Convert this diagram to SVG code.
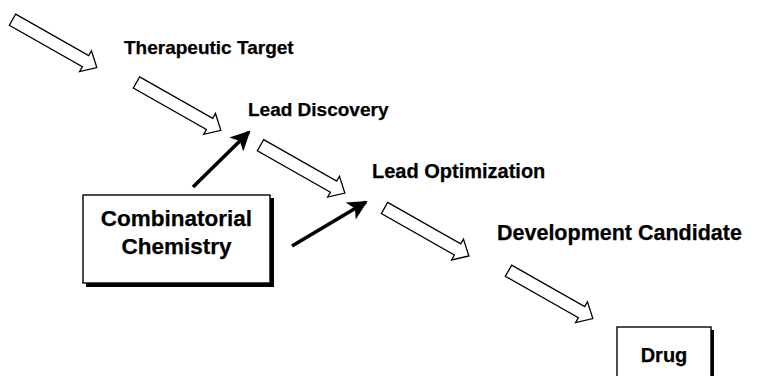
<svg xmlns="http://www.w3.org/2000/svg" width="774" height="376" viewBox="0 0 774 376">
  <defs>
    <!-- hollow block arrow, tail centred on the origin, pointing along +x -->
    <polygon id="hollow" points="0,-6.4 84,-6.4 84,-12 97,0 84,12 84,6.4 0,6.4"/>
    <marker id="solidHead" viewBox="0 0 10 10" refX="9" refY="5" markerWidth="6.5" markerHeight="5.5" markerUnits="strokeWidth" orient="auto">
      <path d="M0,0 L10,5 L0,10 L2.5,5 Z" fill="#000"/>
    </marker>
  </defs>
  <style>
    .flow use { fill: #fff; stroke: #000; stroke-width: 1.3; stroke-linejoin: miter; }
    .feed { stroke: #000; stroke-width: 3.6; fill: none; marker-end: url(#solidHead); }
    .lbl { font-family: "Liberation Sans", Arial, sans-serif; font-weight: bold; fill: #000; stroke: #000; stroke-width: 0.25; }
    .box { fill: #fff; stroke: #000; stroke-width: 1.4; }
    .shadow { fill: #000; }
  </style>
  <rect width="774" height="376" fill="#fff"/>

  <!-- connectors: pipeline arrows and the two feed-in arrows -->
  <g id="connectors">
    <g class="flow">
      <use href="#hollow" transform="translate(12.5,19.7) rotate(29.6)"/>
      <use href="#hollow" transform="translate(136.5,82.4) rotate(29.6)"/>
      <use href="#hollow" transform="translate(260.5,145.2) rotate(29.6)"/>
      <use href="#hollow" transform="translate(384.5,208) rotate(29.6)"/>
      <use href="#hollow" transform="translate(508.5,270.7) rotate(29.6)"/>
    </g>
    <line class="feed" x1="193" y1="187" x2="249" y2="132"/>
    <line class="feed" x1="292" y1="246" x2="366" y2="202"/>
  </g>

  <g id="therapeutic-target">
    <text class="lbl" x="124" y="54" style="font-size:19px">Therapeutic Target</text>
  </g>
  <g id="lead-discovery">
    <text class="lbl" x="248" y="116" style="font-size:19px">Lead Discovery</text>
  </g>
  <g id="lead-optimization">
    <text class="lbl" x="372" y="178" style="font-size:20px">Lead Optimization</text>
  </g>
  <g id="development-candidate">
    <text class="lbl" x="497" y="240" style="font-size:21.5px">Development Candidate</text>
  </g>

  <g id="combinatorial-chemistry">
    <rect class="shadow" x="86" y="198" width="188" height="89"/>
    <rect class="box" x="83" y="195" width="187" height="88"/>
    <text class="lbl" x="176.5" y="226" text-anchor="middle" style="font-size:22.5px">Combinatorial</text>
    <text class="lbl" x="176.5" y="254" text-anchor="middle" style="font-size:22.5px">Chemistry</text>
  </g>

  <g id="drug">
    <rect class="shadow" x="620" y="330" width="94" height="60"/>
    <rect class="box" x="617" y="327" width="94" height="60"/>
    <text class="lbl" x="664" y="362" text-anchor="middle" style="font-size:20px">Drug</text>
  </g>
</svg>
